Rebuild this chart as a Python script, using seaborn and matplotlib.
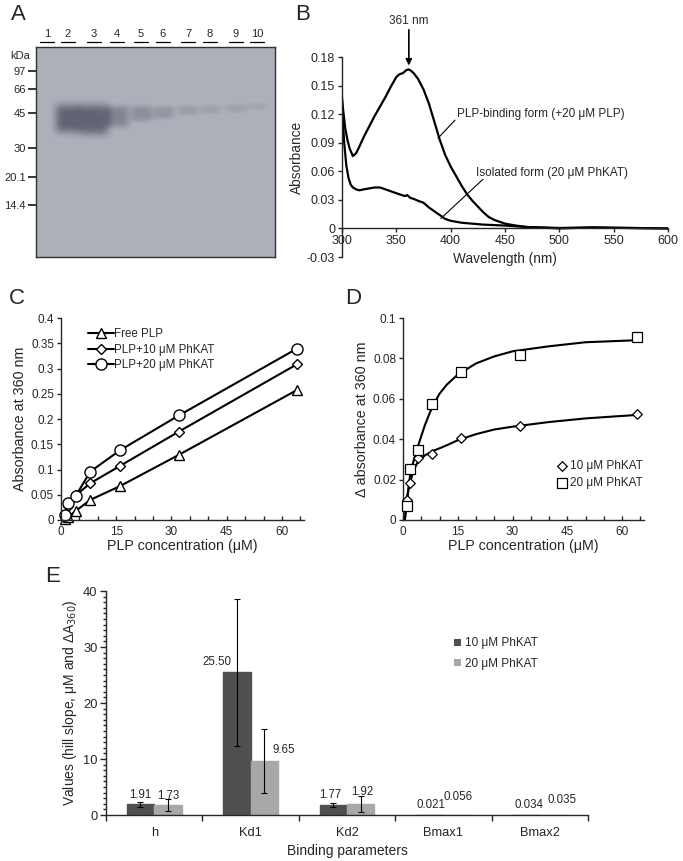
import numpy as np
import pandas as pd
import matplotlib
matplotlib.use("Agg")
import matplotlib.pyplot as plt
import seaborn as sns
from matplotlib.colors import LinearSegmentedColormap
from matplotlib.ticker import MultipleLocator, FuncFormatter
from matplotlib.patches import Patch

# ---------------- data ----------------
# A: SDS-PAGE lanes (relative band strength read from the gel)
lane_names = ['1', '2', '3', '4', '5', '6', '7', '8', '9', '10']
lane_strength = [0.0, 1.0, 1.0, 0.62, 0.48, 0.38, 0.27, 0.21, 0.21, 0.15]
marker_kda = ['97', '66', '45', '30', '20.1', '14.4']

# B: absorption spectra
wl_plp = [300, 301, 303, 305, 307, 310, 313, 316, 320, 325, 330, 335, 340, 345,
          350, 353, 356, 359, 361, 363, 366, 370, 375, 380, 385, 390, 395, 400,
          405, 410, 415, 420, 425, 430, 435, 440, 445, 450, 455, 460, 470, 480,
          500, 530, 560, 600]
abs_plp = [0.138, 0.125, 0.105, 0.093, 0.084, 0.076, 0.079, 0.086, 0.096, 0.107,
           0.118, 0.128, 0.138, 0.149, 0.159, 0.162, 0.163, 0.166, 0.167, 0.166,
           0.163, 0.157, 0.146, 0.131, 0.112, 0.093, 0.077, 0.065, 0.055, 0.045,
           0.036, 0.029, 0.023, 0.017, 0.012, 0.009, 0.007, 0.005, 0.004, 0.003,
           0.0015, 0.001, 0.0, 0.001, 0.0005, 0.0]
wl_iso = [300, 301, 302, 304, 306, 308, 310, 313, 316, 320, 325, 330, 335, 340,
          345, 350, 355, 358, 360, 363, 366, 370, 375, 380, 385, 390, 395, 400,
          410, 420, 430, 450, 470, 500, 530, 600]
abs_iso = [0.13, 0.11, 0.09, 0.066, 0.053, 0.046, 0.043, 0.041, 0.040, 0.041,
           0.042, 0.043, 0.043, 0.041, 0.039, 0.037, 0.035, 0.034, 0.035, 0.032,
           0.031, 0.029, 0.027, 0.022, 0.018, 0.014, 0.010, 0.008, 0.006, 0.005,
           0.004, 0.003, 0.0015, 0.0005, 0.001, 0.0]

# C: absorbance at 360 nm
plp_conc = [1, 2, 4, 8, 16, 32, 64]
abs_free = [0.001, 0.006, 0.018, 0.040, 0.067, 0.129, 0.257]
abs_10 = [0.010, 0.028, 0.049, 0.073, 0.107, 0.175, 0.308]
abs_20 = [0.009, 0.033, 0.048, 0.096, 0.138, 0.207, 0.339]

# D: delta absorbance and fitted curves
d_10 = [0.0099, 0.0182, 0.0306, 0.0329, 0.0408, 0.0466, 0.0524]
d_20 = [0.0071, 0.0251, 0.0347, 0.0575, 0.0732, 0.0815, 0.0904]
fit_conc = [0.5, 1, 1.5, 2, 3, 4, 6, 8, 10, 12, 15, 20, 25, 30, 40, 50, 64]
fit_10 = [0.0, 0.010, 0.015, 0.019, 0.025, 0.0285, 0.032, 0.034, 0.0355, 0.037,
          0.0395, 0.0425, 0.0448, 0.0462, 0.0485, 0.0503, 0.052]
fit_20 = [0.0, 0.008, 0.016, 0.023, 0.030, 0.036, 0.047, 0.056, 0.0625, 0.067,
          0.072, 0.0775, 0.081, 0.0835, 0.086, 0.088, 0.089]

# E: binding parameters
params = ['h', 'Kd1', 'Kd2', 'Bmax1', 'Bmax2']
val_10 = [1.91, 25.50, 1.77, 0.021, 0.034]
val_20 = [1.73, 9.65, 1.92, 0.056, 0.035]
err_10 = [0.5, 13.1, 0.35, 0, 0]
err_20 = [1.05, 5.75, 1.45, 0, 0]

# ---------------- style ----------------
sns.set_theme(style='ticks')
plt.rcParams['font.family'] = ['Liberation Sans', 'DejaVu Sans']
plt.rcParams['axes.linewidth'] = 1.0
plt.rcParams['xtick.major.width'] = 1.0
plt.rcParams['ytick.major.width'] = 1.0
FS = 8.5     # tick labels
LS = 10.3    # axis labels

fig = plt.figure(figsize=(6.83, 8.61), dpi=100)


def px_axes(x0, y0, x1, y1):
    # axes from pixel box (top-left origin)
    return fig.add_axes([x0 / 683, 1 - y1 / 861, (x1 - x0) / 683, (y1 - y0) / 861])


def num_fmt(v, pos=None):
    v = round(v, 4)
    if abs(v) < 1e-9:
        return '0'
    return f'{v:g}'


def panel_letter(x, y, s):
    fig.text(x / 683, 1 - y / 861, s, fontsize=16, ha='center', va='center')


# ---------------- A: gel ----------------
ax_a = px_axes(36, 47, 275, 257)
W, H = 239, 210
lane_x = [11, 32, 58, 81, 105, 127, 152, 174, 200, 221]
band_y = [70, 71, 72, 69, 66, 65, 63, 62, 61, 59]
band_hh = [4, 15, 16, 11, 8, 6.5, 5, 4.5, 4.5, 4]
band_hw = [10, 14, 15, 12, 11, 11, 11, 10, 10.5, 10]
yy, xx = np.mgrid[0:H, 0:W]
dens = np.zeros((H, W))
for s, cx, cy, hh, hw in zip(lane_strength, lane_x, band_y, band_hh, band_hw):
    dens += s * np.exp(-((xx - cx) / hw) ** 4) * np.exp(-((yy - cy) / hh) ** 4)
dens = np.clip(dens, 0, 1)
gel_cmap = LinearSegmentedColormap.from_list('gel', ['#aeb0ba', '#8c8e9c', '#626474'])
ax_a.imshow(dens, cmap=gel_cmap, vmin=0, vmax=1, extent=(0, W, H, 0),
            aspect='auto', interpolation='bilinear')
ax_a.set_xlim(0, W)
ax_a.set_ylim(H, 0)
ax_a.set_xticks([])
ax_a.set_yticks([24, 42, 66, 101, 130, 158])
ax_a.set_yticklabels(marker_kda, fontsize=8)
ax_a.tick_params(axis='y', length=6, width=1.3, pad=1.5, direction='out')
for sp in ax_a.spines.values():
    sp.set_color('#333333')
    sp.set_linewidth(1.0)
ax_a.text(-6, 9, 'kDa', fontsize=8, ha='right', va='center')
for name, cx in zip(lane_names, lane_x):
    ax_a.text(cx, -13, name, fontsize=8, ha='center', va='center')
    ax_a.plot([cx - 7, cx + 7], [-5, -5], color='black', lw=0.9, clip_on=False)
panel_letter(18, 14, 'A')

# ---------------- B: spectra ----------------
ax_b = px_axes(342, 57, 668, 257)
sns.lineplot(x=wl_plp, y=abs_plp, color='black', lw=1.6, ax=ax_b)
sns.lineplot(x=wl_iso, y=abs_iso, color='black', lw=1.6, ax=ax_b)
ax_b.set_xlim(300, 600)
ax_b.set_ylim(-0.03, 0.18)
ax_b.set_yticks(np.arange(-0.03, 0.181, 0.03))
ax_b.yaxis.set_major_formatter(FuncFormatter(num_fmt))
ax_b.set_xticks(np.arange(300, 601, 50))
ax_b.spines['bottom'].set_position(('data', 0))
ax_b.spines[['top', 'right']].set_visible(False)
ax_b.tick_params(labelsize=9, length=3, pad=2)
ax_b.set_xlabel('Wavelength (nm)', fontsize=9.8, labelpad=3)
ax_b.set_ylabel('Absorbance', fontsize=9.8, labelpad=2)
ax_b.annotate('361 nm', xy=(361.5, 0.171), xytext=(361.5, 0.212), fontsize=FS,
              ha='center', va='bottom', annotation_clip=False,
              arrowprops=dict(arrowstyle='-|>', color='black', lw=1.2,
                              mutation_scale=9, shrinkA=0, shrinkB=0))
ax_b.text(405.5, 0.120, 'PLP-binding form (+20 μM PLP)', fontsize=FS,
          ha='left', va='center')
ax_b.plot([404, 388.3], [0.1137, 0.0947], color='black', lw=0.8)
ax_b.text(423.5, 0.058, 'Isolated form (20 μM PhKAT)', fontsize=FS,
          ha='left', va='center')
ax_b.plot([429.7, 391], [0.0516, 0.0105], color='black', lw=0.8)
panel_letter(303, 14, 'B')

# ---------------- C: absorbance at 360 nm ----------------
ax_c = px_axes(61, 318, 304, 520)
line_kw = dict(color='black', lw=1.5, markerfacecolor='white',
               markeredgecolor='black', markeredgewidth=1.0, clip_on=False)
sns.lineplot(x=plp_conc, y=abs_free, marker='^', markersize=7.5,
             label='Free PLP', ax=ax_c, **line_kw)
sns.lineplot(x=plp_conc, y=abs_10, marker='D', markersize=5,
             label='PLP+10 μM PhKAT', ax=ax_c, **line_kw)
sns.lineplot(x=plp_conc, y=abs_20, marker='o', markersize=8,
             label='PLP+20 μM PhKAT', ax=ax_c, **line_kw)
ax_c.set_xlim(0, 66)
ax_c.set_ylim(0, 0.4)
ax_c.set_yticks(np.arange(0, 0.401, 0.05))
ax_c.yaxis.set_major_formatter(FuncFormatter(num_fmt))
ax_c.set_ylabel('Absorbance at 360 nm', fontsize=LS, labelpad=3)
ax_c.legend(loc='upper left', bbox_to_anchor=(0.07, 1.0), frameon=False,
            fontsize=8.3, handlelength=2.2, handletextpad=0.0, labelspacing=0.3)

# ---------------- D: delta absorbance ----------------
ax_d = px_axes(403, 318, 644, 520)
sns.lineplot(x=fit_conc, y=fit_10, color='black', lw=1.5, ax=ax_d)
sns.lineplot(x=fit_conc, y=fit_20, color='black', lw=1.5, ax=ax_d)
sns.scatterplot(x=plp_conc, y=d_10, marker='D', s=24, color='white',
                edgecolor='black', linewidth=0.9, zorder=3, clip_on=False,
                label='10 μM PhKAT', ax=ax_d)
sns.scatterplot(x=plp_conc, y=d_20, marker='s', s=48, color='white',
                edgecolor='black', linewidth=0.9, zorder=3, clip_on=False,
                label='20 μM PhKAT', ax=ax_d)
ax_d.set_xlim(0, 66)
ax_d.set_ylim(0, 0.1)
ax_d.set_yticks(np.arange(0, 0.101, 0.02))
ax_d.yaxis.set_major_formatter(FuncFormatter(num_fmt))
ax_d.set_ylabel('Δ absorbance at 360 nm', fontsize=LS, labelpad=3)
ax_d.legend(loc='lower right', bbox_to_anchor=(1.04, 0.1), frameon=False,
            fontsize=8.5, handlelength=0.8, handletextpad=0.3, labelspacing=0.4)

for ax in (ax_c, ax_d):
    ax.set_xticks([0, 15, 30, 45, 60])
    ax.xaxis.set_minor_locator(MultipleLocator(5))
    ax.spines[['top', 'right']].set_visible(False)
    ax.tick_params(axis='x', which='both', direction='in', length=3, labelsize=FS, pad=4)
    ax.tick_params(axis='y', direction='out', length=3, labelsize=FS, pad=2)
    ax.set_xlabel('PLP concentration (μM)', fontsize=LS, labelpad=1)
panel_letter(17, 298, 'C')
panel_letter(353, 298, 'D')

# ---------------- E: binding parameters ----------------
ax_e = px_axes(106, 591, 588, 815)
df_e = pd.DataFrame({
    'param': params * 2,
    'value': val_10 + val_20,
    'group': ['10 μM PhKAT'] * len(params) + ['20 μM PhKAT'] * len(params),
})
bar_colors = ['#505050', '#a8a8a8']
sns.barplot(data=df_e, x='param', y='value', hue='group', palette=bar_colors,
            width=0.57, errorbar=None, saturation=1, ax=ax_e)
if ax_e.get_legend() is not None:
    ax_e.get_legend().remove()

# label offsets (points) for each bar value
label_dx = [[0, -14, -2, 1, 2], [0, 14, 1, 1, 6]]
label_dy = [[7, 7, 7, 7, 7], [7, 8, 9, 13, 11]]
for k, (cont, vals, errs) in enumerate(zip(ax_e.containers, [val_10, val_20], [err_10, err_20])):
    centers = []
    for p in cont:
        # thin edge in the bar colour keeps near-zero bars visible
        p.set_edgecolor(p.get_facecolor())
        p.set_linewidth(1.0)
        centers.append(p.get_x() + p.get_width() / 2)
    ex = [c for c, e in zip(centers, errs) if e > 0]
    ev = [v for v, e in zip(vals, errs) if e > 0]
    ee = [e for e in errs if e > 0]
    ax_e.errorbar(ex, ev, yerr=ee, fmt='none', ecolor='black', elinewidth=0.8,
                  capsize=2.5, capthick=0.8)
    for i, (c, v) in enumerate(zip(centers, vals)):
        txt = f'{v:.3f}' if v < 0.1 else f'{v:.2f}'
        ax_e.annotate(txt, xy=(c, v), xytext=(label_dx[k][i], label_dy[k][i]),
                      textcoords='offset points', ha='center', va='center',
                      fontsize=8.3)

ax_e.set_xlim(-0.5, 4.5)
ax_e.set_ylim(0, 40)
ax_e.yaxis.set_major_locator(MultipleLocator(10))
ax_e.yaxis.set_minor_locator(MultipleLocator(1))
ax_e.set_xticks(range(len(params)))
ax_e.set_xticklabels(params)
ax_e.set_xticks(np.arange(-0.5, 4.6, 1), minor=True)
ax_e.tick_params(axis='x', which='major', length=0, labelsize=9.3, pad=9)
ax_e.tick_params(axis='x', which='minor', length=4, direction='out')
ax_e.tick_params(axis='y', which='major', length=4, labelsize=9.3, pad=2)
ax_e.tick_params(axis='y', which='minor', length=2)
ax_e.spines[['top', 'right']].set_visible(False)
ax_e.set_xlabel('Binding parameters', fontsize=10, labelpad=3)
ax_e.set_ylabel('Values (hill slope, μM and ΔA$_{360}$)', fontsize=10, labelpad=3)
handles = [Patch(facecolor=c, edgecolor='none', label=l)
           for c, l in zip(bar_colors, ['10 μM PhKAT', '20 μM PhKAT'])]
ax_e.legend(handles=handles, loc='upper left', bbox_to_anchor=(0.7, 0.84),
            frameon=False, fontsize=8.5, handlelength=0.6, handleheight=0.6,
            handletextpad=0.3, labelspacing=0.7)
panel_letter(53, 577, 'E')

fig.savefig('out.png', dpi=100)
